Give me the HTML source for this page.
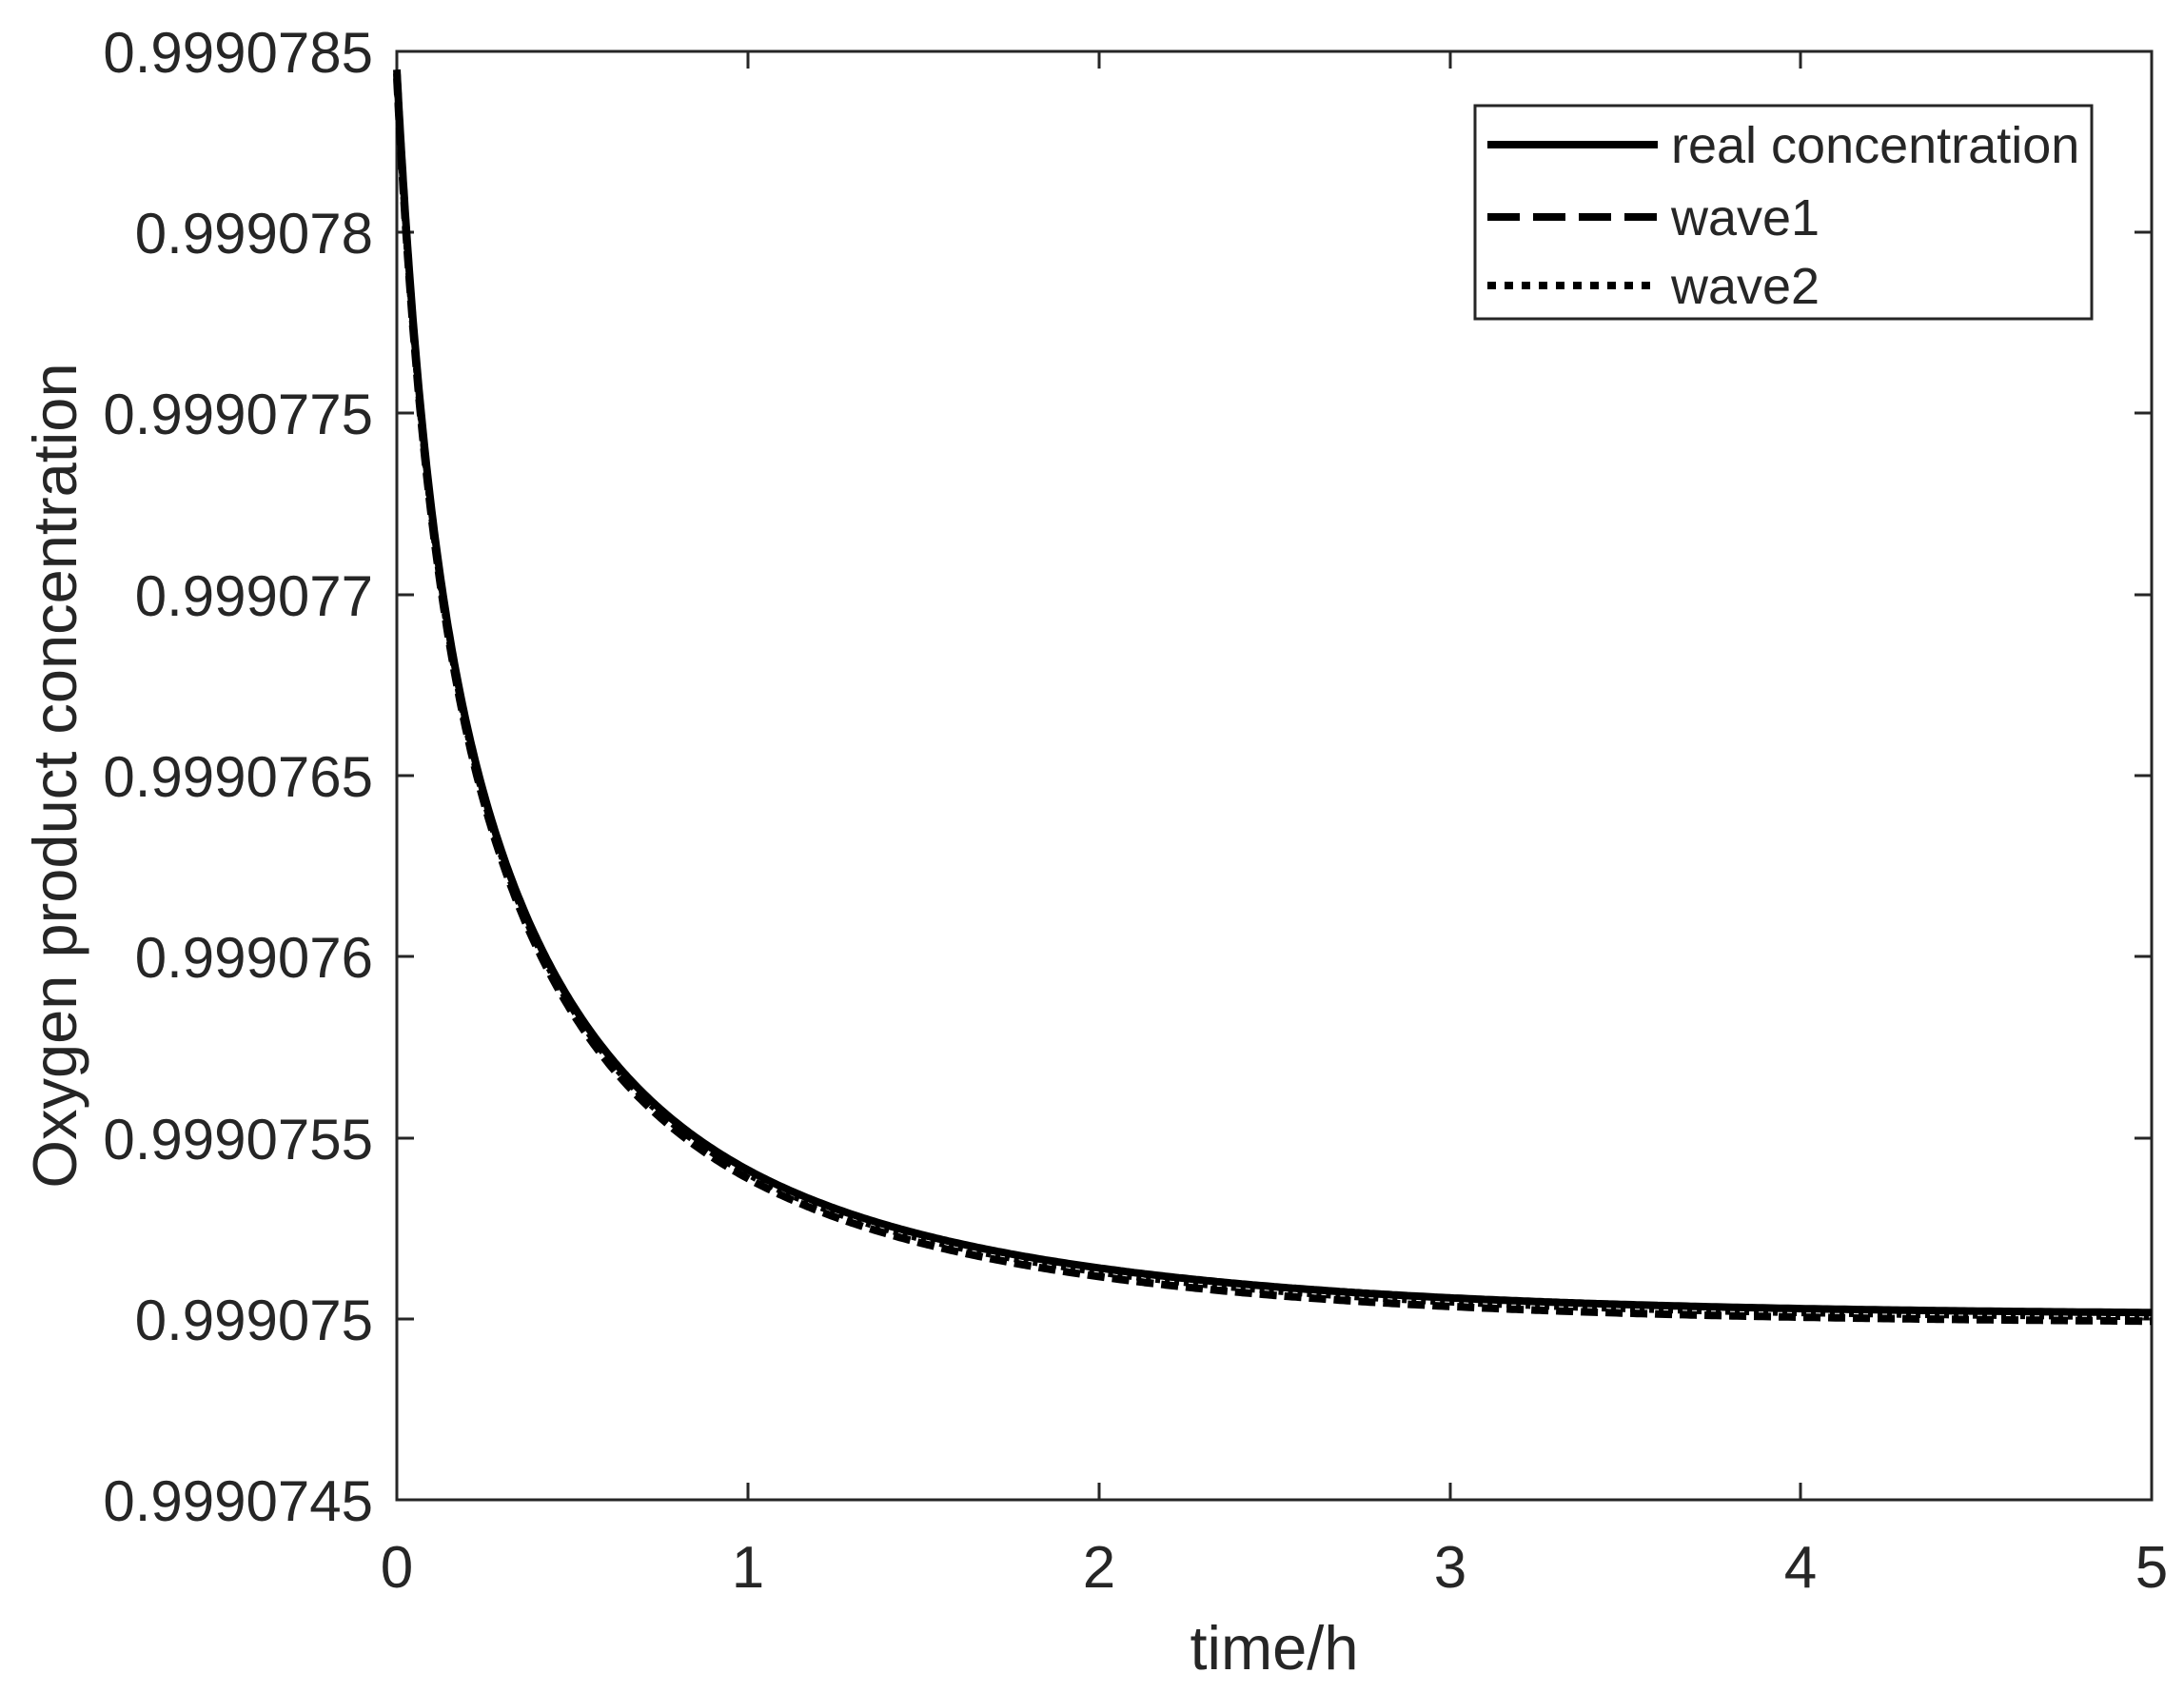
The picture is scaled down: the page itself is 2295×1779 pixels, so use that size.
<!DOCTYPE html>
<html><head><meta charset="utf-8"><style>
html,body{margin:0;padding:0;background:#fff;}
svg{display:block;}
text{font-family:"Liberation Sans",Arial,sans-serif;fill:#262626;}
</style></head><body>
<svg width="2295" height="1779" viewBox="0 0 2295 1779" xmlns="http://www.w3.org/2000/svg">
<rect width="2295" height="1779" fill="#fff"/>
<g stroke="#262626" stroke-width="3" fill="none">
<rect x="417" y="54" width="1844" height="1522"/>
<path d="M417 244h18M417 434h18M417 625h18M417 815h18M417 1005h18M417 1196h18M417 1386h18
M2261 244h-18M2261 434h-18M2261 625h-18M2261 815h-18M2261 1005h-18M2261 1196h-18M2261 1386h-18
M786 1576v-18M1155 1576v-18M1524 1576v-18M1892 1576v-18
M786 54v18M1155 54v18M1524 54v18M1892 54v18"/>
</g>
<g font-size="60" text-anchor="end">
<text x="392" y="76">0.9990785</text>
<text x="392" y="266">0.999078</text>
<text x="392" y="456">0.9990775</text>
<text x="392" y="647">0.999077</text>
<text x="392" y="837">0.9990765</text>
<text x="392" y="1027">0.999076</text>
<text x="392" y="1218">0.9990755</text>
<text x="392" y="1408">0.999075</text>
<text x="392" y="1598">0.9990745</text>
</g>
<g font-size="62" text-anchor="middle">
<text x="417" y="1668">0</text>
<text x="786" y="1668">1</text>
<text x="1155" y="1668">2</text>
<text x="1524" y="1668">3</text>
<text x="1892" y="1668">4</text>
<text x="2261" y="1668">5</text>
<text x="1339" y="1754" font-size="65">time/h</text>
<text transform="translate(80,815) rotate(-90)" font-size="65">Oxygen product concentration</text>
</g>
<g fill="none" stroke="#000" stroke-linejoin="round">
<path id="w1" stroke-width="8" stroke-dasharray="18 8" transform="translate(0,9)"/>
<path id="w2" stroke-width="8" stroke-dasharray="5 5" transform="translate(0,4)"/>
<path id="rc" stroke-width="8"/>
</g>
<rect x="1550" y="111" width="648" height="224" fill="#fff" stroke="#262626" stroke-width="3"/>
<g stroke="#000" stroke-width="8" fill="none">
<path d="M1563 152H1742"/>
<path d="M1563 228H1742" stroke-dasharray="34 14"/>
<path d="M1563 300H1742" stroke-dasharray="9 9"/>
</g>
<g font-size="54">
<text x="1756" y="171">real concentration</text>
<text x="1756" y="247">wave1</text>
<text x="1756" y="319">wave2</text>
</g>
</svg>
<script>
var d="";
for(var i=0;i<=600;i++){
var x=5*Math.pow(i/600,1.6);
var f=257*Math.exp(-x/0.08)+392*Math.exp(-x/0.3)+245*Math.exp(-x/1.0);
var X=417+368.8*x, Y=1.4636*(944-f);
d+=(i?"L":"M")+X.toFixed(1)+" "+Y.toFixed(1);
}
["w1","w2","rc"].forEach(function(id){document.getElementById(id).setAttribute("d",d);});
</script>
</body></html>
